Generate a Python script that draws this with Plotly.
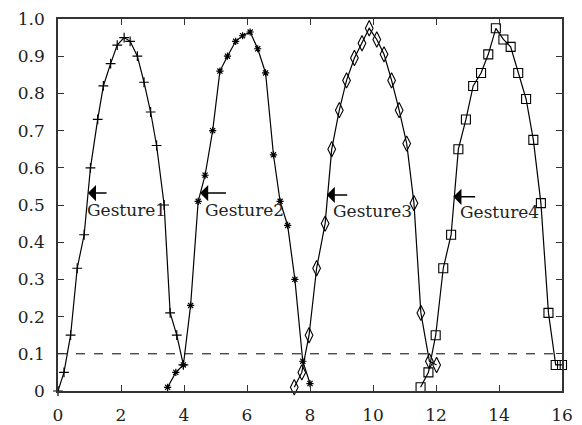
import plotly.graph_objects as go

g1_x = [0, 0.19, 0.40, 0.61, 0.83, 1.03, 1.26, 1.44, 1.67, 1.88, 2.10, 2.29, 2.52, 2.73, 2.94, 3.13, 3.37, 3.56, 3.77, 3.98]
g1_y = [0, 0.05, 0.15, 0.33, 0.42, 0.60, 0.73, 0.82, 0.88, 0.93, 0.95, 0.94, 0.90, 0.83, 0.75, 0.66, 0.50, 0.21, 0.15, 0.07]

g2_x = [3.48, 3.74, 3.98, 4.21, 4.45, 4.67, 4.91, 5.14, 5.38, 5.64, 5.86, 6.10, 6.34, 6.59, 6.84, 7.05, 7.29, 7.52, 7.77, 8.00]
g2_y = [0.01, 0.05, 0.07, 0.23, 0.51, 0.58, 0.70, 0.86, 0.90, 0.94, 0.955, 0.965, 0.92, 0.855, 0.635, 0.51, 0.445, 0.30, 0.08, 0.02]

g3_x = [7.50, 7.74, 7.97, 8.21, 8.48, 8.69, 8.93, 9.16, 9.41, 9.65, 9.88, 10.12, 10.35, 10.59, 10.83, 11.07, 11.30, 11.52, 11.79, 12.02]
g3_y = [0.01, 0.05, 0.15, 0.33, 0.45, 0.65, 0.755, 0.835, 0.895, 0.935, 0.975, 0.945, 0.905, 0.835, 0.755, 0.665, 0.505, 0.21, 0.08, 0.07]

g4_x = [11.51, 11.76, 11.99, 12.23, 12.48, 12.71, 12.95, 13.18, 13.43, 13.66, 13.90, 14.14, 14.37, 14.61, 14.86, 15.09, 15.33, 15.57, 15.80, 16.0]
g4_y = [0.01, 0.05, 0.15, 0.33, 0.42, 0.65, 0.73, 0.82, 0.855, 0.905, 0.975, 0.945, 0.925, 0.855, 0.785, 0.675, 0.505, 0.21, 0.07, 0.07]

labels = ["Gesture1", "Gesture2", "Gesture3", "Gesture4"]
arrow_head_x = [0.95, 4.51, 8.53, 12.55]
arrow_tail_x = [1.59, 5.38, 9.23, 13.29]
arrow_y = [0.532, 0.532, 0.527, 0.522]
label_x = [2.17, 5.92, 9.98, 14.02]
label_y = [0.487, 0.487, 0.484, 0.482]

threshold = 0.1
x_ticks = [0, 2, 4, 6, 8, 10, 12, 14, 16]
y_ticks = [0, 0.1, 0.2, 0.3, 0.4, 0.5, 0.6, 0.7, 0.8, 0.9, 1.0]
y_ticktext = ["0", "0.1", "0.2", "0.3", "0.4", "0.5", "0.6", "0.7", "0.8", "0.9", "1.0"]

FONT = "DejaVu Serif"

series = [
    (g1_x, g1_y, dict(symbol="cross-thin-open", size=7, line=dict(width=1.2, color="black"))),
    (g2_x, g2_y, dict(symbol="asterisk-open", size=6, line=dict(width=1.2, color="black"))),
    (g3_x, g3_y, dict(symbol="diamond-tall-open", size=11, line=dict(width=1.1, color="black"))),
    (g4_x, g4_y, dict(symbol="square-open", size=9, line=dict(width=1.1, color="black"))),
]

fig = go.Figure()
for xs, ys, mk in series:
    fig.add_trace(go.Scatter(x=xs, y=ys, mode="lines+markers",
                             line=dict(color="black", width=1.2),
                             marker=dict(color="black", **mk),
                             cliponaxis=False, showlegend=False))

fig.add_trace(go.Scatter(x=[0, 16], y=[threshold, threshold], mode="lines",
                         line=dict(color="black", width=1, dash="dash"),
                         showlegend=False))

for i in range(4):
    fig.add_annotation(x=arrow_head_x[i], y=arrow_y[i], ax=arrow_tail_x[i], ay=arrow_y[i],
                       xref="x", yref="y", axref="x", ayref="y",
                       text="", showarrow=True, arrowhead=1, arrowsize=1.8,
                       arrowwidth=1.5, arrowcolor="black")
    fig.add_annotation(x=label_x[i], y=label_y[i], xref="x", yref="y",
                       text=labels[i], showarrow=False,
                       font=dict(family=FONT, size=17, color="#222"))

axis_common = dict(showline=True, linecolor="#333", linewidth=1.5, mirror="ticks",
                   ticks="inside", ticklen=6, tickcolor="#333", tickwidth=1.2,
                   showgrid=False, zeroline=False, automargin=False,
                   tickfont=dict(family=FONT, size=17, color="#222"))

fig.update_xaxes(range=[0, 16], tickvals=x_ticks, ticktext=[str(v) for v in x_ticks],
                 ticklabelstandoff=8, **axis_common)
fig.update_yaxes(range=[0, 1.0], tickvals=y_ticks, ticktext=y_ticktext,
                 ticklabelstandoff=8, **axis_common)

fig.update_layout(width=582, height=425, margin=dict(l=58, r=20, t=19, b=34),
                  font=dict(family=FONT),
                  plot_bgcolor="white", paper_bgcolor="white")

fig.write_html("out.html")
